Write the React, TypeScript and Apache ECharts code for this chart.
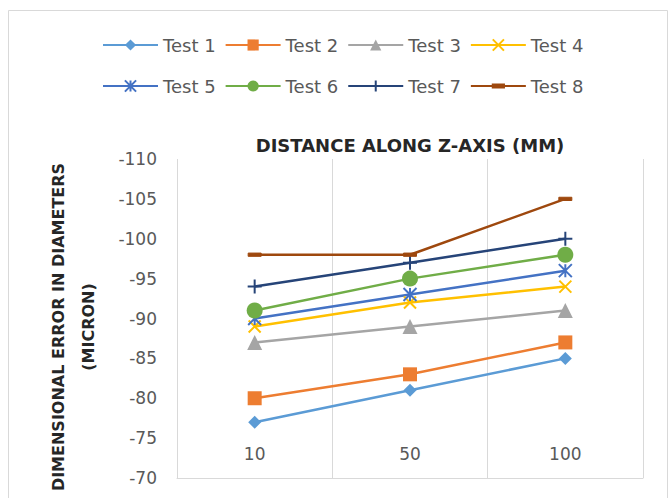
import React, { useEffect, useRef } from 'react';
import * as echarts from 'echarts';

const categories = ['10', '50', '100'];
const seriesNames = ['Test 1', 'Test 2', 'Test 3', 'Test 4', 'Test 5', 'Test 6', 'Test 7', 'Test 8'];
const test1 = [-77, -81, -85];
const test2 = [-80, -83, -87];
const test3 = [-87, -89, -91];
const test4 = [-89, -92, -94];
const test5 = [-90, -93, -96];
const test6 = [-91, -95, -98];
const test7 = [-94, -97, -100];
const test8 = [-98, -98, -105];
const yMin = -110;
const yMax = -70;
const yInterval = 5;

const xTitle = 'DISTANCE ALONG Z-AXIS (MM)';
const yTitle = 'DIMENSIONAL ERROR IN DIAMETERS\n(MICRON)';

const values = [test1, test2, test3, test4, test5, test6, test7, test8];
const colors = ['#5B9BD5', '#ED7D31', '#A5A5A5', '#FFC000', '#4472C4', '#70AD47', '#264478', '#9E480E'];
const symbols = [
  'diamond',
  'rect',
  'triangle',
  'path://M0 0L10 10M10 0L0 10',
  'path://M0 0L10 10M10 0L0 10M5 0L5 10',
  'circle',
  'path://M5 0L5 10M0 5L10 5',
  'path://M0 0M0 4.5L12 4.5L12 7.5L0 7.5ZM12 12',
];
const symbolSizes = [13, 14, 15, 12, 13, 16, 14, 13];
const borderWidths = [0, 0, 0, 2, 2, 0, 2, 1];

const FONT = 'DejaVu Sans';

export default function App() {
  const ref = useRef<HTMLDivElement>(null);
  useEffect(() => {
    const chart = echarts.init(ref.current!, null, { renderer: 'svg' });
    const series = seriesNames.map((name, i) => ({
      name,
      type: 'line',
      data: values[i],
      symbol: symbols[i],
      symbolSize: symbolSizes[i],
      showAllSymbol: true,
      lineStyle: { color: colors[i], width: 2.5 },
      itemStyle: { color: colors[i], borderColor: colors[i], borderWidth: borderWidths[i] },
      emphasis: { disabled: true },
    }));
    const legendCommon = {
      left: 97,
      itemWidth: 55,
      itemHeight: 14,
      itemGap: 9,
      textStyle: { fontFamily: FONT, fontSize: 18, color: '#595959' },
      selectedMode: false,
    };
    chart.setOption({
      animation: false,
      backgroundColor: '#ffffff',
      textStyle: { fontFamily: FONT },
      legend: [
        { ...legendCommon, top: 31, data: seriesNames.slice(0, 4) },
        { ...legendCommon, top: 72, data: seriesNames.slice(4, 8) },
      ],
      grid: { left: 177, right: 26, top: 159, bottom: 20, containLabel: false },
      xAxis: {
        type: 'category',
        data: categories,
        boundaryGap: true,
        axisLine: { show: true, lineStyle: { color: '#d9d9d9', width: 1 } },
        axisTick: { show: false },
        splitLine: { show: true, lineStyle: { color: '#d9d9d9', width: 1 } },
        axisLabel: {
          inside: true,
          margin: 16,
          fontFamily: FONT,
          fontSize: 17,
          color: '#595959',
        },
      },
      yAxis: {
        type: 'value',
        inverse: true,
        min: yMin,
        max: yMax,
        interval: yInterval,
        axisLine: { show: false },
        axisTick: { show: false },
        splitLine: { show: false },
        axisLabel: { margin: 20, fontFamily: FONT, fontSize: 17, color: '#595959' },
      },
      graphic: [
        {
          type: 'rect',
          shape: { x: 8.5, y: 10.5, width: 659, height: 520 },
          style: { fill: 'none', stroke: '#d9d9d9', lineWidth: 1 },
          silent: true,
        },
        {
          type: 'text',
          x: 410,
          y: 145,
          style: {
            text: xTitle,
            fontFamily: FONT,
            fontWeight: 'bold',
            fontSize: 18,
            fill: '#262626',
            align: 'center',
            verticalAlign: 'middle',
          },
        },
        {
          type: 'text',
          x: 73,
          y: 327,
          rotation: Math.PI / 2,
          style: {
            text: yTitle,
            fontFamily: FONT,
            fontWeight: 'bold',
            fontSize: 16,
            lineHeight: 30,
            fill: '#262626',
            align: 'center',
            verticalAlign: 'middle',
          },
        },
      ],
      series,
    });
    return () => chart.dispose();
  }, []);
  return <div ref={ref} style={{ position: 'fixed', left: 0, top: 0, width: 669, height: 498 }} />;
}
